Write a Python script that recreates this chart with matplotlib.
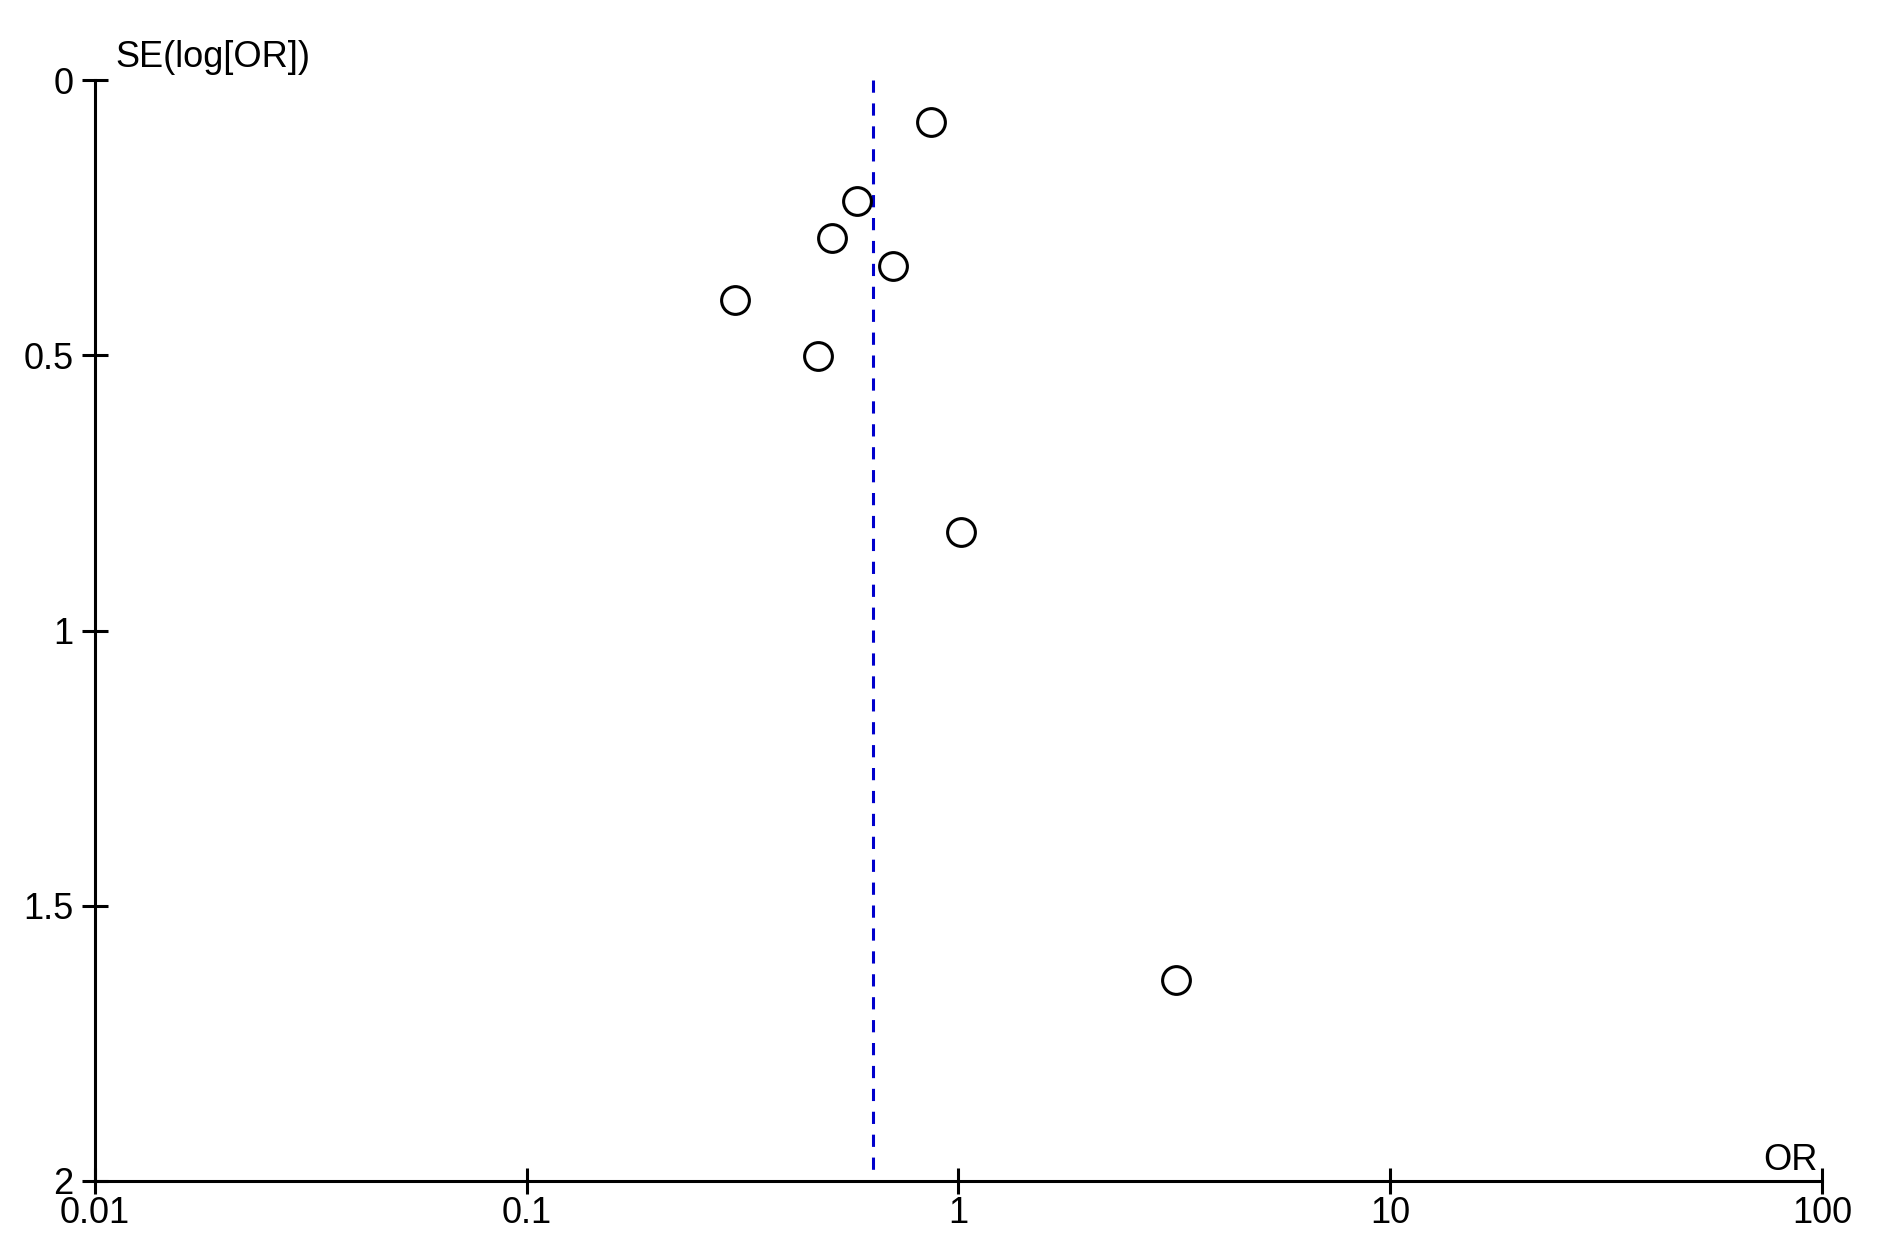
import matplotlib
matplotlib.use('Agg')
import matplotlib.pyplot as plt
from matplotlib import font_manager

# pick a narrow sans if there is one
names = {f.name for f in font_manager.fontManager.ttflist}
if 'Liberation Sans Narrow' in names:
    plt.rcParams['font.family'] = ['Liberation Sans Narrow', 'DejaVu Sans']
else:
    plt.rcParams['font.family'] = ['Liberation Sans', 'DejaVu Sans']

# study odds ratios and standard errors of log(OR)
odds_ratio = [0.865, 0.581, 0.508, 0.705, 0.303, 0.473, 1.016, 3.19]
se_log_or = [0.077, 0.219, 0.287, 0.337, 0.399, 0.502, 0.821, 1.634]
pooled_or = 0.635

x_ticks = [0.01, 0.1, 1, 10, 100]
x_tick_labels = ['0.01', '0.1', '1', '10', '100']
y_ticks = [0, 0.5, 1, 1.5, 2]
y_tick_labels = ['0', '0.5', '1', '1.5', '2']

fig = plt.figure(figsize=(18.88, 12.59), dpi=100)
ax = fig.add_axes([95 / 1888, 1 - 1181 / 1259, (1822 - 95) / 1888, (1181 - 80) / 1259])

ax.plot([pooled_or, pooled_or], [0, 2], color='#0000cc', lw=2.2, ls=(0, (4, 3.5)), zorder=1)
ax.plot(odds_ratio, se_log_or, 'o', ms=20, mfc='none', mec='black', mew=2.2, zorder=2)

ax.set_xscale('log')
ax.set_xlim(0.01, 100)
ax.set_ylim(2, 0)
ax.set_xticks(x_ticks)
ax.set_xticklabels(x_tick_labels)
ax.set_yticks(y_ticks)
ax.set_yticklabels(y_tick_labels)
ax.minorticks_off()

for s in ['top', 'right']:
    ax.spines[s].set_visible(False)
for s in ['left', 'bottom']:
    ax.spines[s].set_linewidth(2.2)

ax.tick_params(axis='both', direction='inout', length=19, width=2.2, labelsize=26)
ax.tick_params(axis='x', pad=1)
ax.tick_params(axis='y', pad=6)

fig.text(115 / 1888, 1 - 67 / 1259, 'SE(log[OR])', fontsize=26, ha='left', va='baseline')
fig.text(1818 / 1888, 1 - 1170 / 1259, 'OR', fontsize=26, ha='right', va='baseline')

fig.savefig('out.png', dpi=100)
